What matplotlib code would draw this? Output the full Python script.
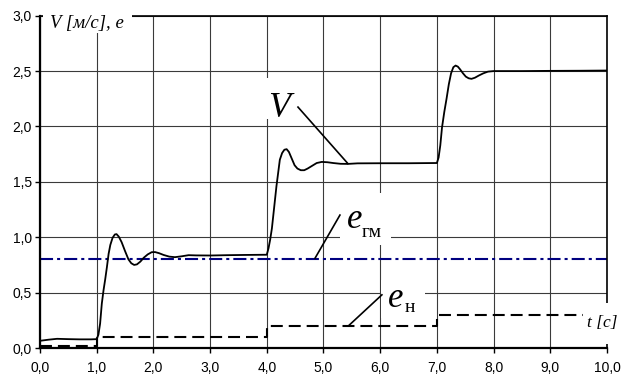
import matplotlib
matplotlib.use("Agg")
import matplotlib.pyplot as plt
from matplotlib.patches import Rectangle

plt.rcParams["lines.scale_dashes"] = False

# ---- data -------------------------------------------------------------
# speed response V(t)
t_v = [0.0, 0.15, 0.3, 0.5, 0.7, 0.9, 1.0, 1.03, 1.06, 1.09, 1.12, 1.15,
       1.18, 1.21, 1.24, 1.28, 1.32, 1.35, 1.39, 1.44, 1.50, 1.56, 1.61,
       1.66, 1.71, 1.77, 1.83, 1.90, 1.97, 2.03, 2.10, 2.18, 2.28, 2.38,
       2.50, 2.62, 2.75, 3.0, 3.3, 3.6, 4.0, 4.03, 4.06, 4.09, 4.13, 4.17,
       4.20, 4.23, 4.27, 4.31, 4.35, 4.39, 4.44, 4.49, 4.54, 4.60, 4.66,
       4.72, 4.80, 4.88, 4.97, 5.07, 5.17, 5.30, 5.43, 5.6, 6.0, 6.5, 7.0,
       7.03, 7.06, 7.09, 7.13, 7.17, 7.21, 7.25, 7.29, 7.33, 7.37, 7.41,
       7.46, 7.51, 7.56, 7.61, 7.67, 7.74, 7.82, 7.90, 8.0, 8.5, 9.0, 9.5,
       10.0]
v = [0.065, 0.075, 0.083, 0.080, 0.078, 0.078, 0.080, 0.12, 0.22, 0.40,
     0.52, 0.62, 0.73, 0.85, 0.93, 0.995, 1.025, 1.028, 1.005, 0.955, 0.875,
     0.80, 0.765, 0.75, 0.755, 0.78, 0.815, 0.845, 0.865, 0.866, 0.856,
     0.84, 0.825, 0.82, 0.828, 0.838, 0.836, 0.835, 0.838, 0.84, 0.842,
     0.90, 0.98, 1.08, 1.27, 1.46, 1.58, 1.70, 1.76, 1.79, 1.795, 1.77,
     1.71, 1.65, 1.62, 1.605, 1.605, 1.62, 1.645, 1.67, 1.68, 1.677, 1.67,
     1.663, 1.662, 1.667, 1.668, 1.668, 1.67, 1.72, 1.83, 1.99, 2.13, 2.25,
     2.38, 2.48, 2.535, 2.55, 2.54, 2.515, 2.48, 2.45, 2.435, 2.43, 2.44,
     2.46, 2.48, 2.495, 2.50, 2.50, 2.502, 2.503, 2.505]

# e_гм: constant level
t_egm = [0.0, 10.0]
egm = [0.8, 0.8]

# e_н: stepwise level
t_en = [0.0, 1.0, 1.0, 4.0, 4.0, 7.0, 7.0, 10.0]
en = [0.02, 0.02, 0.1, 0.1, 0.2, 0.2, 0.3, 0.3]

x_ticks = [0, 1, 2, 3, 4, 5, 6, 7, 8, 9, 10]
x_labels = ["0,0", "1,0", "2,0", "3,0", "4,0", "5,0", "6,0", "7,0", "8,0",
            "9,0", "10,0"]
y_ticks = [0.0, 0.5, 1.0, 1.5, 2.0, 2.5, 3.0]
y_labels = ["0,0", "0,5", "1,0", "1,5", "2,0", "2,5", "3,0"]

# ---- figure -----------------------------------------------------------
W, H = 621, 383
fig = plt.figure(figsize=(W / 100, H / 100), dpi=100)
ax = fig.add_axes([40 / W, 1 - 348 / H, 567 / W, 332.3 / H])
ax.set_xlim(0, 10)
ax.set_ylim(0, 3)
ax.set_axisbelow(True)

ax.set_xticks(x_ticks, x_labels)
ax.set_yticks(y_ticks, y_labels)
ax.tick_params(direction="out", length=3.6, width=1.0,
               labelsize=10, colors="black")
ax.tick_params(axis="x", pad=6.0)
ax.tick_params(axis="y", pad=2.4)
for lab in ax.get_xticklabels() + ax.get_yticklabels():
    lab.set_fontfamily("Liberation Sans")
ax.grid(True, color="#3a3a3a", linewidth=0.8)

for side in ("top", "right"):
    ax.spines[side].set_linewidth(1.2)
for side in ("left", "bottom"):
    ax.spines[side].set_linewidth(1.6)

# curves
ax.plot(t_egm, egm, color="#000080", linewidth=1.5,
        dashes=(9.4, 2.9, 2.2, 2.9), zorder=2)
ax.plot(t_en, en, color="black", linewidth=1.5, dashes=(8.6, 4.3), zorder=2)
ax.plot(t_v, v, color="black", linewidth=1.3, zorder=2.2)

# white label boxes (t0, v0, width, height) in data units
serif = "Liberation Serif"
boxes = [
    ((0.05, 2.845), 1.57, 0.26, 3),    # axis title
    ((9.58, 0.036), 0.67, 0.37, 3),    # t [c]
    ((3.79, 2.07), 0.83, 0.37, 1),     # V
    ((5.29, 0.93), 0.90, 0.47, 1),     # e_гм
    ((6.01, 0.27), 0.78, 0.34, 1),     # e_н
]
for (x0, y0), w, h, z in boxes:
    ax.add_patch(Rectangle((x0, y0), w, h, facecolor="white",
                           edgecolor="none", zorder=z, clip_on=False))

# leader lines
ax.plot([4.55, 5.43], [2.175, 1.665], color="black", lw=1.2, zorder=3)
ax.plot([4.85, 5.29], [0.81, 1.20], color="black", lw=1.2, zorder=3)
ax.plot([5.44, 6.03], [0.20, 0.48], color="black", lw=1.2, zorder=3)

# text
kw = dict(family=serif, zorder=4, clip_on=False)
ax.text(0.176, 2.885, "V [м/с], e", fontsize=13.5, style="italic",
        ha="left", va="baseline", **kw)
ax.text(9.65, 0.19, "t [c]", fontsize=12.5, style="italic",
        ha="left", va="baseline", **kw)
ax.text(4.215, 2.088, "V", fontsize=26, style="italic",
        ha="center", va="baseline", **kw)
ax.text(5.414, 1.083, "e", fontsize=25, style="italic",
        ha="left", va="baseline", **kw)
ax.text(5.679, 1.002, "гм", fontsize=14, ha="left", va="baseline", **kw)
ax.text(6.138, 0.370, "e", fontsize=25, style="italic",
        ha="left", va="baseline", **kw)
ax.text(6.437, 0.325, "н", fontsize=14, ha="left", va="baseline", **kw)

fig.savefig("out.png", dpi=100)
